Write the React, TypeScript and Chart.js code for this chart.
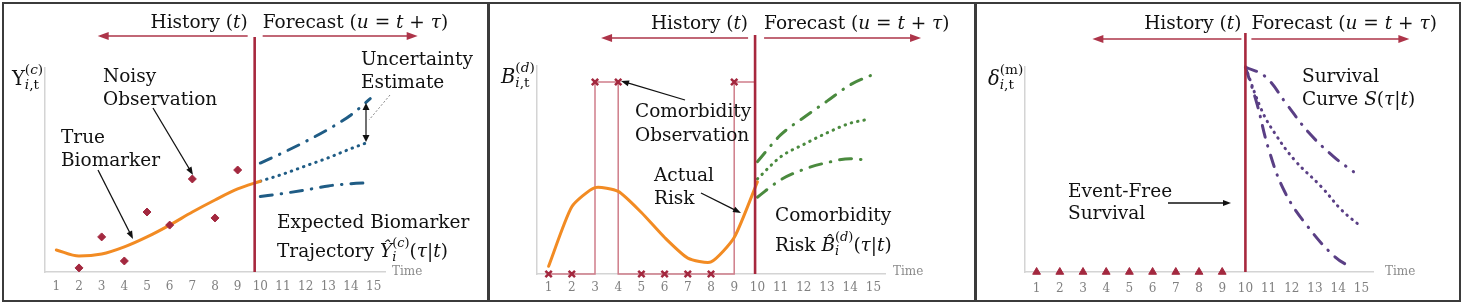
import React, { useEffect, useRef } from 'react';
import { Chart, registerables } from 'chart.js';

Chart.register(...registerables);

const FONT = "'DejaVu Serif', 'Liberation Serif', serif";
const INK = '#111111';
const RED = '#a7283e';
const ARROW_RED = '#ad3449';
const ORANGE = '#f28b23';
const BLUE = '#1f5c85';
const GREEN = '#4a8a3e';
const PURPLE = '#5a3f85';
const PINK = '#cf7d8a';
const MARK_RED = '#a3283f';
const TXT = 18.5;

// shared x axis
const xTicks = [1, 2, 3, 4, 5, 6, 7, 8, 9, 10, 11, 12, 13, 14, 15];
const xMin = 0.5;
const xMax = 15.5;

// Panel 1 – biomarker
const p1TrueX = [1, 2, 3, 4, 5, 6, 7, 8, 9, 10];
const p1TrueY = [10.8, 7.8, 8.8, 12.3, 17.2, 23, 29.4, 35.3, 40.7, 44.5];
const p1NoisyX = [2, 3, 4, 5, 6, 7, 8, 9];
const p1NoisyY = [2, 17.2, 5.4, 29.4, 23, 45.6, 26.5, 50];
const p1FcX = [10, 11, 12, 13, 14, 14.85];
const p1FcUpper = [53.4, 58.5, 64, 70, 77, 85];
const p1FcMid = [44.5, 48, 52, 56, 60.5, 64];
const p1FcLower = [37, 38.5, 40.2, 42.2, 43.3, 43.8];
const p1Cut = 9.75;
const p1YMax = 100;

// Panel 2 – comorbidity
const p2ObsX = [1, 2, 3, 4, 5, 6, 7, 8, 9];
const p2Obs = [0, 0, 1, 1, 0, 0, 0, 0, 1];
const p2RiskX = [1, 2, 3, 4, 5, 6, 7, 8, 9, 10];
const p2Risk = [0.04, 0.35, 0.45, 0.43, 0.32, 0.19, 0.083, 0.0625, 0.19, 0.48];
const p2UpX = [10, 11, 12, 13, 14, 15];
const p2Up = [0.585, 0.724, 0.815, 0.9, 0.985, 1.04];
const p2MidX = [10, 11, 12, 13, 14, 14.8];
const p2Mid = [0.495, 0.61, 0.675, 0.735, 0.785, 0.806];
const p2LowX = [10, 11, 12, 13, 14, 14.6];
const p2Low = [0.4, 0.49, 0.545, 0.58, 0.6, 0.595];
const p2Cut = 9.9;
const p2YMax = 1.083;

// Panel 3 – survival
const p3EventX = [1, 2, 3, 4, 5, 6, 7, 8, 9];
const p3Event = [0, 0, 0, 0, 0, 0, 0, 0, 0];
const p3UpX = [10, 10.86, 11.8, 12.73, 13.8, 14.66];
const p3Up = [1.0, 0.953, 0.815, 0.68, 0.563, 0.489];
const p3MidX = [10, 10.7, 11.26, 12.12, 13.28, 14.15, 15];
const p3Mid = [1.0, 0.79, 0.678, 0.546, 0.415, 0.302, 0.22];
const p3LowX = [10, 10.5, 11, 11.7, 12.7, 13.85, 14.6];
const p3Low = [1.0, 0.82, 0.6, 0.39, 0.22, 0.075, 0.02];
const p3Cut = 10;
const p3YMax = 1;

type Seg = { t?: string; it?: boolean; sub?: Seg[]; sup?: Seg[] };

function drawSegs(ctx: CanvasRenderingContext2D, x: number, y: number, segs: Seg[], size: number, draw: boolean): number {
  let cx = x;
  for (const s of segs) {
    if (s.sub || s.sup) {
      const w1 = s.sub ? drawSegs(ctx, cx, y + size * 0.2, s.sub, size * 0.7, draw) : 0;
      const w2 = s.sup ? drawSegs(ctx, cx, y - size * 0.55, s.sup, size * 0.7, draw) : 0;
      cx += Math.max(w1, w2);
    } else {
      ctx.font = `${s.it ? 'italic ' : ''}${size}px ${FONT}`;
      if (draw) ctx.fillText(s.t || '', cx, y);
      cx += ctx.measureText(s.t || '').width;
    }
  }
  return cx - x;
}

function rich(ctx: CanvasRenderingContext2D, x: number, y: number, segs: Seg[] | string, size = TXT, align: 'left' | 'right' = 'left', color = INK) {
  const sg: Seg[] = typeof segs === 'string' ? [{ t: segs }] : segs;
  ctx.fillStyle = color;
  ctx.textAlign = 'left';
  ctx.textBaseline = 'alphabetic';
  let sx = x;
  if (align === 'right') sx = x - drawSegs(ctx, x, y, sg, size, false);
  drawSegs(ctx, sx, y, sg, size, true);
}

function arrow(ctx: CanvasRenderingContext2D, x1: number, y1: number, x2: number, y2: number, color: string, lw: number, hl: number, hw: number, both = false) {
  const a = Math.atan2(y2 - y1, x2 - x1);
  const head = (hx: number, hy: number, ang: number) => {
    ctx.beginPath();
    ctx.moveTo(hx, hy);
    ctx.lineTo(hx - hl * Math.cos(ang) + (hw / 2) * Math.sin(ang), hy - hl * Math.sin(ang) - (hw / 2) * Math.cos(ang));
    ctx.lineTo(hx - hl * Math.cos(ang) - (hw / 2) * Math.sin(ang), hy - hl * Math.sin(ang) + (hw / 2) * Math.cos(ang));
    ctx.closePath();
    ctx.fill();
  };
  ctx.strokeStyle = color;
  ctx.fillStyle = color;
  ctx.lineWidth = lw;
  ctx.setLineDash([]);
  const sx = both ? x1 + (hl - 1) * Math.cos(a) : x1;
  const sy = both ? y1 + (hl - 1) * Math.sin(a) : y1;
  ctx.beginPath();
  ctx.moveTo(sx, sy);
  ctx.lineTo(x2 - (hl - 1) * Math.cos(a), y2 - (hl - 1) * Math.sin(a));
  ctx.stroke();
  head(x2, y2, a);
  if (both) head(x1, y1, a + Math.PI);
}

const historySegs: Seg[] = [{ t: 'History (' }, { t: 't', it: true }, { t: ')' }];
const forecastSegs: Seg[] = [
  { t: 'Forecast (' }, { t: 'u', it: true }, { t: ' = ' }, { t: 't', it: true }, { t: ' + ' }, { t: 'τ', it: true }, { t: ')' },
];

type HeadP = { top: number; hEnd: number; fStart: number; base: number; ay: number; lEnd: number; rEnd: number };

function header(ctx: CanvasRenderingContext2D, c: any, cut: number, hp: HeadP) {
  const cx = c.scales.x.getPixelForValue(cut);
  ctx.strokeStyle = RED;
  ctx.lineWidth = 2.6;
  ctx.setLineDash([]);
  ctx.beginPath();
  ctx.moveTo(cx, hp.top);
  ctx.lineTo(cx, c.chartArea.bottom);
  ctx.stroke();
  rich(ctx, cx + hp.hEnd, hp.base, historySegs, TXT, 'right');
  rich(ctx, cx + hp.fStart, hp.base, forecastSegs, TXT, 'left');
  arrow(ctx, cx + hp.hEnd, hp.ay, cx + hp.lEnd, hp.ay, ARROW_RED, 1.7, 11, 8);
  arrow(ctx, cx + hp.fStart, hp.ay, cx + hp.rEnd, hp.ay, ARROW_RED, 1.7, 11, 8);
}

function timeLabel(ctx: CanvasRenderingContext2D, c: any, dx: number) {
  ctx.fillStyle = '#8a8a8a';
  ctx.font = `12px ${FONT}`;
  ctx.textAlign = 'left';
  ctx.textBaseline = 'alphabetic';
  ctx.fillText('Time', c.chartArea.right + dx, 271);
}

function pts(xs: number[], ys: number[]) {
  return xs.map((x, i) => ({ x, y: ys[i] }));
}

function stepPoints(xs: number[], obs: number[], endX: number) {
  const ext = [...obs, obs[obs.length - 1]];
  const xe = [...xs, endX];
  const out: { x: number; y: number }[] = [];
  const push = (x: number, y: number) => {
    const l = out[out.length - 1];
    if (!l || l.x !== x || l.y !== y) out.push({ x, y });
  };
  for (let i = 0; i < xe.length - 1; i++) {
    const lvl = ext[i] && ext[i + 1] ? 1 : 0;
    push(xe[i], lvl);
    push(xe[i + 1], lvl);
  }
  return out;
}

const dashDot = [12, 9, 0.5, 9];
const dotted = [0.5, 6];

function curve(xs: number[], ys: number[], color: string, dash: number[] = [], extra: any = {}) {
  return {
    data: pts(xs, ys),
    borderColor: color,
    backgroundColor: color,
    borderWidth: 3,
    pointRadius: 0,
    borderDash: dash,
    borderCapStyle: 'round',
    borderJoinStyle: 'round',
    cubicInterpolationMode: 'monotone',
    clip: false,
    fill: false,
    showLine: true,
    ...extra,
  };
}

const smooth = { cubicInterpolationMode: 'default', tension: 0.4 };

function markers(xs: number[], ys: number[], style: string, color: string, radius: number, bw: number) {
  return {
    data: pts(xs, ys),
    showLine: false,
    pointStyle: style,
    pointRadius: radius,
    pointBackgroundColor: color,
    pointBorderColor: color,
    pointBorderWidth: bw,
    borderColor: color,
    backgroundColor: color,
    clip: false,
  };
}

type Spec = {
  left: number; w: number; padL: number; padT: number; padR: number; xh: number; tickPad: number; ymax: number;
  make: () => any[]; draw: (ctx: CanvasRenderingContext2D, c: any) => void;
};

const specs: Spec[] = [
  {
    left: 2, w: 487, padL: 41, padT: 64, padR: 102, xh: 28, tickPad: 8, ymax: p1YMax,
    make: () => [
      markers(p1NoisyX, p1NoisyY, 'rectRot', MARK_RED, 4, 1),
      curve(p1TrueX, p1TrueY, ORANGE),
      curve(p1FcX, p1FcUpper, BLUE, dashDot),
      curve(p1FcX, p1FcMid, BLUE, dotted),
      curve(p1FcX, p1FcLower, BLUE, dashDot),
    ],
    draw: (ctx, c) => {
      header(ctx, c, p1Cut, { top: 33, hEnd: -7, fStart: 8, base: 24, ay: 32, lEnd: -157, rEnd: 163 });
      timeLabel(ctx, c, 7);
      rich(ctx, 8, 81, [{ t: 'Y' }, { sub: [{ t: 'i', it: true }, { t: ',t' }], sup: [{ t: '(' }, { t: 'c', it: true }, { t: ')' }] }], 19.5);
      rich(ctx, 99, 78, 'Noisy');
      rich(ctx, 99, 101, 'Observation');
      arrow(ctx, 149, 104, 189, 171, '#111', 1.3, 8, 6);
      rich(ctx, 57, 139, 'True');
      rich(ctx, 57, 162, 'Biomarker');
      arrow(ctx, 94, 166, 129, 235, '#111', 1.3, 8, 6);
      rich(ctx, 357, 61, 'Uncertainty');
      rich(ctx, 357, 84, 'Estimate');
      arrow(ctx, 362, 99, 362, 138, '#111', 1.2, 7, 7, true);
      ctx.strokeStyle = '#666';
      ctx.lineWidth = 0.8;
      ctx.setLineDash([2, 2]);
      ctx.beginPath();
      ctx.moveTo(386, 91);
      ctx.lineTo(365, 116);
      ctx.stroke();
      ctx.setLineDash([]);
      rich(ctx, 273, 224, 'Expected Biomarker');
      rich(ctx, 273, 253, [
        { t: 'Trajectory ' }, { t: 'Ŷ', it: true },
        { sub: [{ t: 'i', it: true }], sup: [{ t: '(' }, { t: 'c', it: true }, { t: ')' }] },
        { t: '(' }, { t: 'τ', it: true }, { t: '|' }, { t: 't', it: true }, { t: ')' },
      ]);
    },
  },
  {
    left: 488, w: 488, padL: 47, padT: 62, padR: 89, xh: 26, tickPad: 7, ymax: p2YMax,
    make: () => [
      markers(p2ObsX, p2Obs, 'crossRot', MARK_RED, 4.5, 2.5),
      curve(p2RiskX, p2Risk, ORANGE, [], { cubicInterpolationMode: 'default', tension: 0.2 }),
      curve(p2UpX, p2Up, GREEN, dashDot),
      curve(p2MidX, p2Mid, GREEN, dotted),
      curve(p2LowX, p2Low, GREEN, dashDot),
      {
        data: stepPoints(p2ObsX, p2Obs, p2Cut),
        borderColor: PINK,
        borderWidth: 1.5,
        pointRadius: 0,
        tension: 0,
        clip: false,
        fill: false,
      },
    ],
    draw: (ctx, c) => {
      header(ctx, c, p2Cut, { top: 31, hEnd: -7, fStart: 9, base: 25, ay: 34, lEnd: -154, rEnd: 166 });
      timeLabel(ctx, c, 8);
      rich(ctx, 11, 79, [{ t: 'B', it: true }, { sub: [{ t: 'i', it: true }, { t: ',t' }], sup: [{ t: '(' }, { t: 'd', it: true }, { t: ')' }] }], 19.5);
      rich(ctx, 145, 113, 'Comorbidity');
      rich(ctx, 145, 137, 'Observation');
      arrow(ctx, 195, 96, 131, 77, '#111', 1.3, 8, 6);
      rich(ctx, 164, 177, 'Actual');
      rich(ctx, 164, 200, 'Risk');
      arrow(ctx, 211, 189, 251, 209, '#111', 1.3, 8, 6);
      rich(ctx, 285, 217, 'Comorbidity');
      rich(ctx, 285, 247, [
        { t: 'Risk ' }, { t: 'B\u0302', it: true },
        { sub: [{ t: 'i', it: true }], sup: [{ t: '(' }, { t: 'd', it: true }, { t: ')' }] },
        { t: '(' }, { t: 'τ', it: true }, { t: '|' }, { t: 't', it: true }, { t: ')' },
      ]);
    },
  },
  {
    left: 975, w: 486, padL: 48, padT: 63, padR: 86, xh: 28, tickPad: 10, ymax: p3YMax,
    make: () => [
      markers(p3EventX, p3Event, 'triangle', MARK_RED, 4.5, 1),
      curve(p3UpX, p3Up, PURPLE, dashDot, smooth),
      curve(p3MidX, p3Mid, PURPLE, dotted, smooth),
      curve(p3LowX, p3Low, PURPLE, dashDot, smooth),
    ],
    draw: (ctx, c) => {
      header(ctx, c, p3Cut, { top: 29, hEnd: -4, fStart: 6, base: 25, ay: 35, lEnd: -153, rEnd: 164 });
      timeLabel(ctx, c, 12);
      rich(ctx, 11, 81, [{ t: 'δ', it: true }, { sub: [{ t: 'i', it: true }, { t: ',t' }], sup: [{ t: '(m)' }] }], 19.5);
      rich(ctx, 325, 78, 'Survival');
      rich(ctx, 325, 101, [{ t: 'Curve ' }, { t: 'S', it: true }, { t: '(' }, { t: 'τ', it: true }, { t: '|' }, { t: 't', it: true }, { t: ')' }]);
      rich(ctx, 91, 193, 'Event-Free');
      rich(ctx, 91, 215, 'Survival');
      arrow(ctx, 191, 199, 254, 199, '#111', 1.3, 8, 6);
    },
  },
];

function Panel({ spec }: { spec: Spec }) {
  const ref = useRef<HTMLCanvasElement>(null);
  useEffect(() => {
    const cv = ref.current!;
    const chart = new Chart(cv, {
      type: 'line',
      data: { datasets: spec.make() },
      options: {
        responsive: false,
        animation: false,
        events: [],
        layout: { padding: { left: spec.padL, top: spec.padT, right: spec.padR, bottom: 0 } },
        plugins: { legend: { display: false }, tooltip: { enabled: false } },
        scales: {
          x: {
            type: 'linear',
            min: xMin,
            max: xMax,
            afterBuildTicks: (s: any) => {
              s.ticks = xTicks.map((v) => ({ value: v }));
            },
            afterFit: (s: any) => {
              s.height = spec.xh;
            },
            grid: { display: false, drawTicks: false },
            border: { display: true, color: '#d4d4d4', width: 1.5 },
            ticks: {
              color: '#808080',
              font: { family: FONT, size: 12 },
              padding: spec.tickPad,
              autoSkip: false,
              maxRotation: 0,
              callback: (v: any) => String(v),
            },
          },
          y: {
            type: 'linear',
            min: 0,
            max: spec.ymax,
            afterFit: (s: any) => {
              s.width = 0;
            },
            grid: { display: false, drawTicks: false },
            border: { display: true, color: '#d4d4d4', width: 1.5 },
            ticks: { display: false },
          },
        },
      } as any,
      plugins: [
        {
          id: 'decor',
          afterDatasetsDraw: (c: any) => {
            const ctx = c.ctx;
            ctx.save();
            spec.draw(ctx, c);
            ctx.restore();
          },
        },
      ],
    } as any);
    return () => chart.destroy();
  }, []);
  return (
    <div
      style={{
        position: 'absolute',
        left: spec.left,
        top: 2,
        width: spec.w,
        height: 300,
        border: '2px solid #3b3b3b',
        boxSizing: 'border-box',
        background: '#fff',
      }}
    >
      <canvas ref={ref} width={spec.w - 4} height={296} style={{ display: 'block', width: spec.w - 4, height: 296 }} />
    </div>
  );
}

export default function App() {
  useEffect(() => {
    document.body.style.margin = '0';
  }, []);
  return (
    <div style={{ position: 'relative', width: 1465, height: 305, background: '#fff' }}>
      {specs.map((s, i) => (
        <Panel key={i} spec={s} />
      ))}
    </div>
  );
}
